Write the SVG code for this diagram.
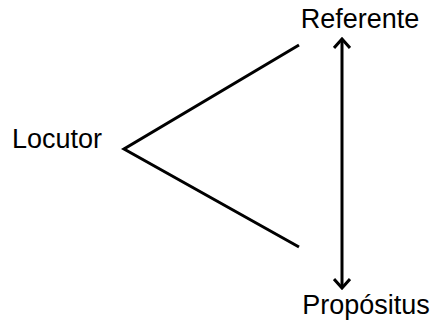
<svg xmlns="http://www.w3.org/2000/svg" width="435" height="328" viewBox="0 0 435 328">
<style>
text{font-family:"Liberation Sans",Arial,sans-serif;font-size:27px;fill:#000}
.ln{stroke:#000;stroke-width:3;fill:none;stroke-linecap:butt}
</style>
<defs>
<marker id="ah" viewBox="0 0 12 18" refX="10" refY="9" markerWidth="12" markerHeight="18" markerUnits="userSpaceOnUse" orient="auto-start-reverse">
<path d="M1,1 L10,9 L1,17" fill="none" stroke="#000" stroke-width="3"/>
</marker>
</defs>
<rect width="435" height="328" fill="#fff"/>
<g id="referente"><text x="360" y="28" text-anchor="middle">Referente</text></g>
<g id="locutor"><text x="57" y="148" text-anchor="middle">Locutor</text></g>
<g id="propositus"><text x="366" y="314" text-anchor="middle">Propósitus</text></g>
<g id="connectors">
<polyline class="ln" points="299,45 124,149 299,247"/>
<line class="ln" x1="342" y1="39" x2="342" y2="288" marker-start="url(#ah)" marker-end="url(#ah)"/>
</g>
</svg>
